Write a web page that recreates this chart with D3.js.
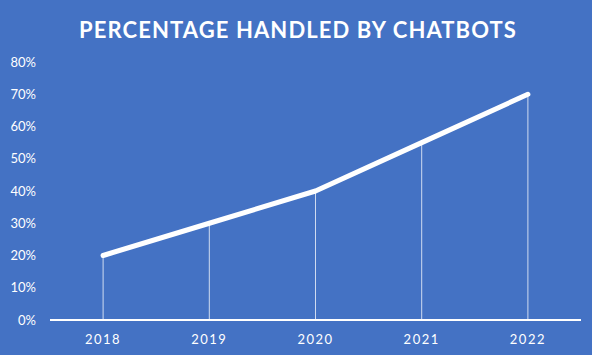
<!DOCTYPE html>
<html><head><meta charset="utf-8">
<script src="https://cdn.jsdelivr.net/npm/d3@7"></script>
<style>
html,body{margin:0;padding:0;background:#4472C4;}
svg{display:block;}
</style></head>
<body>
<svg id="chart" width="592" height="355"></svg>
<script>
const title = "PERCENTAGE HANDLED BY CHATBOTS";
const years = ["2018","2019","2020","2021","2022"];
const values = [0.20, 0.30, 0.40, 0.55, 0.70];
const yTicks = [0,0.1,0.2,0.3,0.4,0.5,0.6,0.7,0.8];

const svg = d3.select("#chart");
svg.append("rect").attr("width",592).attr("height",355).attr("fill","#4472C4");

const x = d3.scaleBand().domain(years).range([50,581]);
const y = d3.scaleLinear().domain([0,0.8]).range([320,62]);

svg.append("text").attr("x",298).attr("y",38).attr("text-anchor","middle")
  .attr("fill","#fff").attr("font-family","Lato, 'Open Sans', sans-serif")
  .attr("font-weight","bold").attr("font-size",22).attr("letter-spacing",1.1)
  .text(title);

// y labels
svg.append("g").selectAll("text").data(yTicks).join("text")
  .attr("x",36).attr("y",d=>y(d)).attr("dy","0.35em").attr("text-anchor","end")
  .attr("fill","#fff").attr("font-family","Lato, 'Open Sans', sans-serif").attr("font-size",13)
  .text(d=>d3.format(".0%")(d));

// drop lines
svg.append("g").selectAll("line").data(years).join("line")
  .attr("x1",(d)=>x(d)+x.bandwidth()/2).attr("x2",(d)=>x(d)+x.bandwidth()/2)
  .attr("y1",(d,i)=>y(values[i])).attr("y2",y(0))
  .attr("stroke","#fff").attr("stroke-opacity",0.75).attr("stroke-width",1);

// x axis line
svg.append("line").attr("x1",50).attr("x2",581).attr("y1",y(0)).attr("y2",y(0))
  .attr("stroke","#fff").attr("stroke-width",2);

// x labels
svg.append("g").selectAll("text").data(years).join("text")
  .attr("x",d=>x(d)+x.bandwidth()/2).attr("y",344).attr("text-anchor","middle")
  .attr("fill","#fff").attr("font-family","Lato, 'Open Sans', sans-serif").attr("font-size",13)
  .attr("letter-spacing",1.5)
  .text(d=>d);

// line
const line = d3.line().x((d,i)=>x(years[i])+x.bandwidth()/2).y(d=>y(d));
svg.append("path").datum(values).attr("d",line).attr("fill","none")
  .attr("stroke","#fff").attr("stroke-width",5).attr("stroke-linecap","round").attr("stroke-linejoin","round");
</script>
</body></html>
